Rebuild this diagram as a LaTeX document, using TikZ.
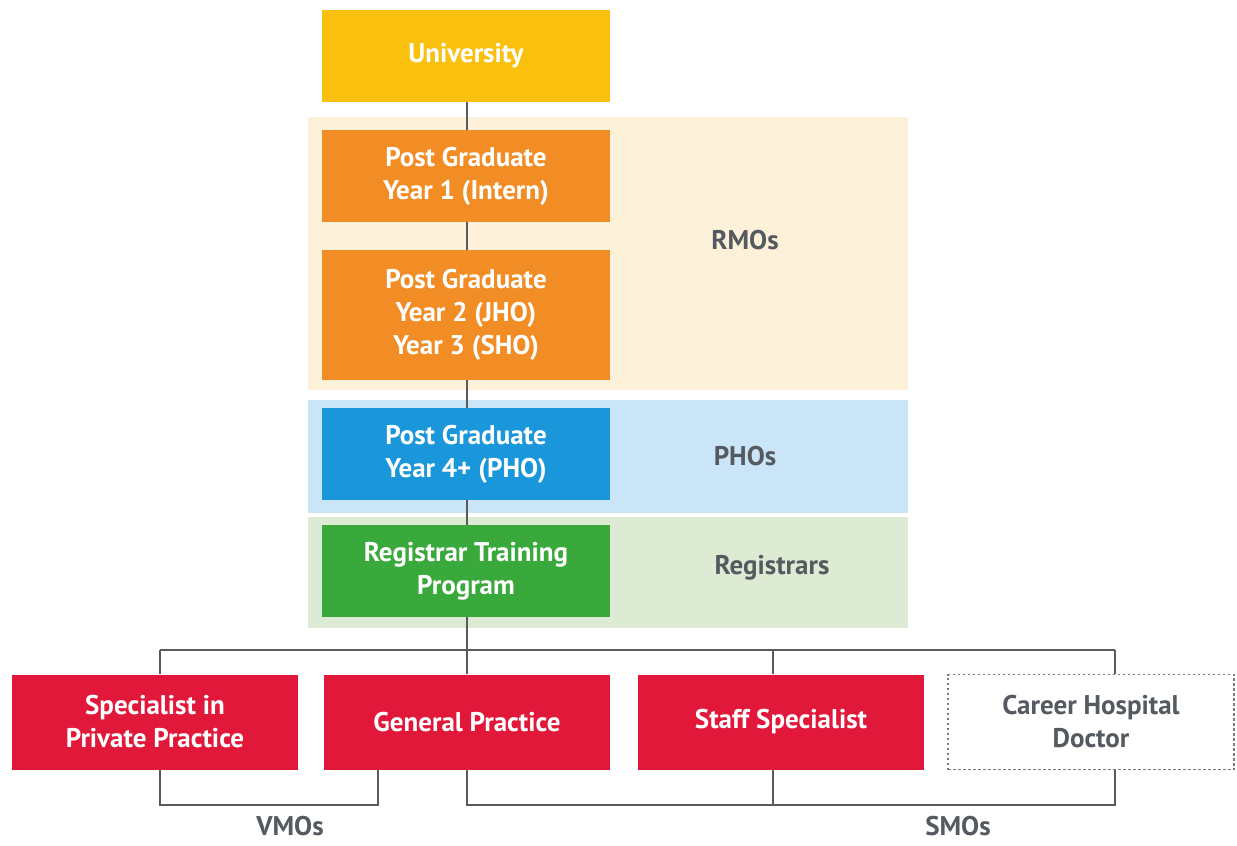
\documentclass[tikz,border=0pt]{standalone}
\usepackage{fontspec}
\setmainfont{PT Sans}
\pgfdeclarelayer{bands}
\pgfdeclarelayer{wires}
\pgfsetlayers{bands,wires,main}
\definecolor{uniyellow}{HTML}{F9C10E}
\definecolor{pgorange}{HTML}{F28C24}
\definecolor{phoblue}{HTML}{1A96DA}
\definecolor{reggreen}{HTML}{3AA93C}
\definecolor{jobred}{HTML}{E1183A}
\definecolor{bandpeach}{HTML}{FDF1DA}
\definecolor{bandblue}{HTML}{CBE5F8}
\definecolor{bandgreen}{HTML}{DDEBD5}
\definecolor{wiregray}{HTML}{5A5A5A}
\definecolor{labelgray}{HTML}{555A60}
\tikzset{
  x=1pt, y=-1pt,
  stagebox/.style={draw=none, minimum width=288pt, minimum height=92pt,
    inner sep=0pt, align=center, text=white, font=\fontsize{27}{33}\selectfont\bfseries},
  jobbox/.style={stagebox, fill=jobred, minimum width=286pt, minimum height=95pt},
  band/.style={draw=none, minimum width=600pt, inner sep=0pt},
  grouplabel/.style={text=labelgray, inner sep=1pt, font=\fontsize{27}{33}\selectfont\bfseries},
  wire/.style={draw=wiregray, line width=1.8pt},
}
\begin{document}
\begin{tikzpicture}
\useasboundingbox (0,0) rectangle (1237,846);

% career stages
\node[stagebox, fill=uniyellow] (uni) at (466,56) {University};
\node[stagebox, fill=pgorange] (pg1) at (466,176) {Post Graduate\\Year 1 (Intern)};
\node[stagebox, fill=pgorange, minimum height=130pt] (pg2) at (466,315) {Post Graduate\\Year 2 (JHO)\\Year 3 (SHO)};
\node[stagebox, fill=phoblue] (pho) at (466,454) {Post Graduate\\Year 4+ (PHO)};
\node[stagebox, fill=reggreen] (reg) at (466,571) {Registrar Training\\Program};

% career outcomes
\node[jobbox] (spp) at (155,722) {Specialist in\\Private Practice};
\node[jobbox] (gp) at (467,722) {General Practice};
\node[jobbox] (ss) at (781,722) {Staff Specialist};
\node[jobbox, fill=white, text=labelgray, draw=wiregray!80, line width=1.5pt,
      dash pattern=on 2.5pt off 2.5pt, minimum width=286pt] (chd) at (1091,722) {Career Hospital\\Doctor};

% group bands and labels
\begin{pgfonlayer}{bands}
  \node[band, fill=bandpeach, minimum height=273pt] (rmoband) at (608,253.5) {};
  \node[band, fill=bandblue, minimum height=113pt] (phoband) at (608,456.5) {};
  \node[band, fill=bandgreen, minimum height=111pt] (regband) at (608,572.5) {};
\end{pgfonlayer}
\node[grouplabel] (rmo) at (745,240) {RMOs};
\node[grouplabel] (phos) at (745,456) {PHOs};
\node[grouplabel] (regs) at (772,568) {Registrars};
\node[grouplabel] (vmo) at (290,826) {VMOs};
\node[grouplabel] (smo) at (958,826) {SMOs};

% branch points
\coordinate (splitL) at (160,650);
\coordinate (splitS) at (773,650);
\coordinate (splitR) at (1115,650);
\coordinate (vmoR) at (378,770);

% connectors
\begin{pgfonlayer}{wires}
  \draw[wire] (uni.south -| gp.north) -- (gp.north);
  \draw[wire] (splitL) -- (splitR);
  \draw[wire] (splitL) -- (splitL |- spp.north);
  \draw[wire] (splitS) -- (splitS |- ss.north);
  \draw[wire] (splitR) -- (splitR |- chd.north);
  % VMO bracket
  \draw[wire] (splitL |- spp.south) -- ++(0,35) -| (vmoR);
  % SMO bracket
  \draw[wire] (gp.south) -- ++(0,35) -| (splitR |- chd.south);
  \draw[wire] (splitS |- ss.south) -- ++(0,35);
\end{pgfonlayer}
\end{tikzpicture}
\end{document}
